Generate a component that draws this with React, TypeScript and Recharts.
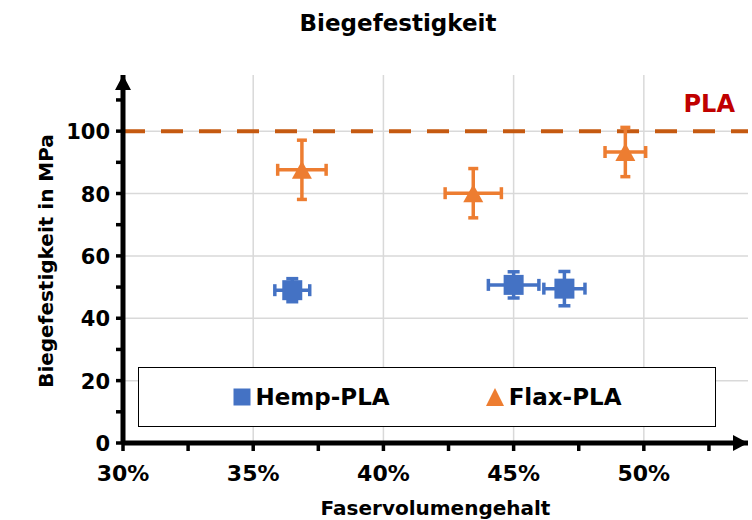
import {
  CartesianGrid,
  ErrorBar,
  Legend,
  ReferenceLine,
  Scatter,
  ScatterChart,
  XAxis,
  YAxis,
} from 'recharts'

const FONT = '"DejaVu Sans", "Liberation Sans", sans-serif'
const HEMP_COLOR = '#4472C4'
const FLAX_COLOR = '#ED7D31'
const PLA_LINE = '#C55A11'
const PLA_TEXT = '#C00000'
const GRID_STROKE = '#D9D9D9'

// fibre volume fraction (%) and flexural strength (MPa), with std deviations
const hempFiber = [36.5, 45.0, 46.95]
const hempFiberErr = [0.67, 0.97, 0.79]
const hempStrength = [49.0, 50.7, 49.5]
const hempStrengthErr = [3.7, 4.2, 5.5]

const flaxFiber = [36.87, 43.45, 49.29]
const flaxFiberErr = [0.93, 1.08, 0.78]
const flaxStrength = [87.6, 80.1, 93.3]
const flaxStrengthErr = [9.5, 7.9, 7.9]

const plaStrength = 100

const seriesNames = ['Hemp-PLA', 'Flax-PLA']
const xTicks = [30, 32.5, 35, 37.5, 40, 42.5, 45, 47.5, 50, 52.5]
const yTicks = [0, 10, 20, 30, 40, 50, 60, 70, 80, 90, 100, 110]
const xGrid = [35, 40, 45, 50]
const yGrid = [20, 40, 60, 80, 100]

const toRows = (xs: number[], xe: number[], ys: number[], ye: number[]) =>
  xs.map((x, i) => ({ x, y: ys[i], ex: xe[i], ey: ye[i] }))

const hempRows = toRows(hempFiber, hempFiberErr, hempStrength, hempStrengthErr)
const flaxRows = toRows(flaxFiber, flaxFiberErr, flaxStrength, flaxStrengthErr)

const textStyle = { fontFamily: FONT, fontWeight: 'bold' as const, fill: '#000' }

function SquareMark({ cx, cy }: any) {
  return <rect x={cx - 10} y={cy - 10} width={20} height={20} fill={HEMP_COLOR} />
}

function TriangleMark({ cx, cy }: any) {
  return <polygon points={`${cx},${cy - 9} ${cx + 10},${cy + 9} ${cx - 10},${cy + 9}`} fill={FLAX_COLOR} />
}

function XTick({ x, y, payload }: any) {
  if (payload.value % 5 !== 0) return <g />
  return (
    <text x={x} y={y + 30} textAnchor="middle" fontSize={22} {...textStyle}>
      {payload.value}%
    </text>
  )
}

function YTick({ x, y, payload }: any) {
  if (payload.value % 20 !== 0) return <g />
  return (
    <text x={x} y={y + 8} textAnchor="end" fontSize={21} {...textStyle}>
      {payload.value}
    </text>
  )
}

function LegendBox({ payload }: any) {
  // keep series order (the legend would otherwise sort by name)
  const items = [...(payload ?? [])].sort(
    (a: any, b: any) => seriesNames.indexOf(a.value) - seriesNames.indexOf(b.value),
  )
  return (
    <div
      style={{
        boxSizing: 'border-box',
        width: 578,
        height: 60,
        border: '1px solid #000',
        background: '#fff',
        display: 'flex',
        alignItems: 'center',
        justifyContent: 'center',
        gap: 96,
        fontFamily: FONT,
        fontWeight: 'bold',
        fontSize: 23,
        color: '#000',
      }}
    >
      {items.map((item: any) => (
        <div key={item.value} style={{ display: 'flex', alignItems: 'center', gap: 5 }}>
          <svg width={18} height={18}>
            {item.value === 'Hemp-PLA' ? (
              <rect x={0.5} y={0.5} width={17} height={17} fill={HEMP_COLOR} />
            ) : (
              <polygon points="9,0 18,18 0,18" fill={FLAX_COLOR} />
            )}
          </svg>
          <span>{item.value}</span>
        </div>
      ))}
    </div>
  )
}

export default function App() {
  return (
    <div style={{ position: 'absolute', left: 0, top: 0, width: 752, height: 520, background: '#fff' }}>
      {/* arrowheads for the axis lines */}
      <svg width={0} height={0} style={{ position: 'absolute' }}>
        <defs>
          <marker
            id="axisArrow"
            viewBox="0 0 15 16"
            refX={15}
            refY={8}
            markerWidth={15}
            markerHeight={16}
            markerUnits="userSpaceOnUse"
            orient="auto-start-reverse"
          >
            <path d="M0,0 L15,8 L0,16 z" fill="#000" />
          </marker>
        </defs>
      </svg>

      <div
        style={{
          position: 'absolute',
          left: 398,
          top: 12,
          transform: 'translateX(-50%)',
          whiteSpace: 'nowrap',
          fontFamily: FONT,
          fontWeight: 'bold',
          fontSize: 23,
          lineHeight: '23px',
          color: '#000',
        }}
      >
        Biegefestigkeit
      </div>

      <ScatterChart width={752} height={520} margin={{ top: 75, right: 4, bottom: 17, left: 0 }}>
        <CartesianGrid
          stroke={GRID_STROKE}
          strokeWidth={1.5}
          horizontalValues={yGrid}
          verticalValues={xGrid}
        />
        <XAxis
          type="number"
          dataKey="x"
          domain={[30, 54]}
          ticks={xTicks}
          allowDataOverflow
          height={60}
          tickSize={8}
          tickMargin={0}
          axisLine={{ stroke: '#000', strokeWidth: 5, markerEnd: 'url(#axisArrow)' }}
          tickLine={{ stroke: '#000', strokeWidth: 3.5 }}
          tick={<XTick />}
          label={(p: any) => (
            <text x={p.viewBox.x + p.viewBox.width / 2} y={515} textAnchor="middle" fontSize={20} {...textStyle}>
              Faservolumengehalt
            </text>
          )}
        />
        <YAxis
          type="number"
          dataKey="y"
          domain={[0, 118]}
          ticks={yTicks}
          allowDataOverflow
          width={123}
          tickSize={7}
          tickMargin={6}
          axisLine={{ stroke: '#000', strokeWidth: 5, markerStart: 'url(#axisArrow)' }}
          tickLine={{ stroke: '#000', strokeWidth: 3.5 }}
          tick={<YTick />}
          label={(p: any) => {
            const cy = p.viewBox.y + p.viewBox.height / 2 + 2
            return (
              <text x={52.5} y={cy} transform={`rotate(-90 52.5 ${cy})`} textAnchor="middle" fontSize={20} {...textStyle}>
                Biegefestigkeit in MPa
              </text>
            )
          }}
        />
        <ReferenceLine
          y={plaStrength}
          stroke={PLA_LINE}
          strokeWidth={4}
          strokeDasharray="22 16"
          label={(p: any) => (
            <text
              x={p.viewBox.x + p.viewBox.width - 13}
              y={p.viewBox.y - 19.5}
              textAnchor="end"
              fontSize={24}
              fontFamily={FONT}
              fontWeight="bold"
              fill={PLA_TEXT}
            >
              PLA
            </text>
          )}
        />
        <Scatter name="Hemp-PLA" data={hempRows} fill={HEMP_COLOR} shape={<SquareMark />} isAnimationActive={false}>
          <ErrorBar dataKey="ex" direction="x" width={6} strokeWidth={3.5} stroke={HEMP_COLOR} isAnimationActive={false} />
          <ErrorBar dataKey="ey" direction="y" width={6} strokeWidth={3.5} stroke={HEMP_COLOR} isAnimationActive={false} />
        </Scatter>
        <Scatter name="Flax-PLA" data={flaxRows} fill={FLAX_COLOR} shape={<TriangleMark />} isAnimationActive={false}>
          <ErrorBar dataKey="ex" direction="x" width={6} strokeWidth={3.5} stroke={FLAX_COLOR} isAnimationActive={false} />
          <ErrorBar dataKey="ey" direction="y" width={5} strokeWidth={3.5} stroke={FLAX_COLOR} isAnimationActive={false} />
        </Scatter>
        <Legend
          layout="horizontal"
          verticalAlign="middle"
          align="center"
          content={<LegendBox />}
          wrapperStyle={{ position: 'absolute', left: 138, top: 367, width: 578, height: 60 }}
        />
      </ScatterChart>
    </div>
  )
}
